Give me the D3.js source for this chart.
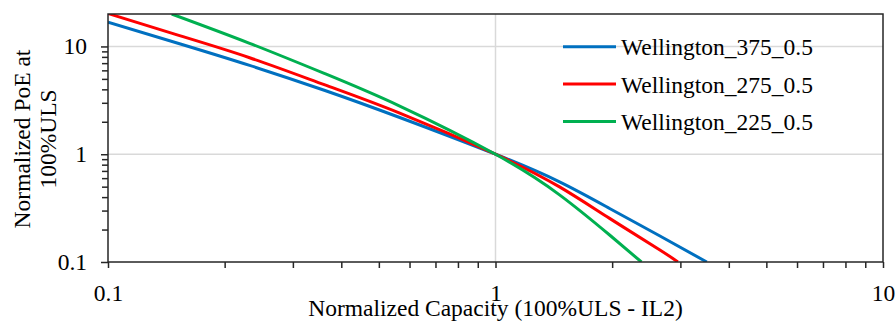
<!DOCTYPE html>
<html>
<head>
<meta charset="utf-8">
<script src="https://cdn.jsdelivr.net/npm/d3@7"></script>
<style>
  body { margin: 0; background: #fff; }
</style>
</head>
<body>
<div id="chart"></div>
<script>
// Series (x = normalized capacity, y = normalized PoE)
const seriesNames = ["Wellington_375_0.5", "Wellington_275_0.5", "Wellington_225_0.5"];
const seriesColors = ["#0070C0", "#FF0000", "#00B050"];

const x375 = [0.1, 0.153, 0.232, 0.363, 0.566, 1, 1.463, 1.97, 2.65, 3.51];
const y375 = [16.8, 10.6, 6.67, 3.9, 2.19, 1, 0.554, 0.314, 0.175, 0.1];

const x275 = [0.1, 0.153, 0.232, 0.363, 0.566, 1, 1.463, 1.97, 2.65, 2.955];
const y275 = [20.2, 12.6, 7.86, 4.4, 2.41, 1, 0.498, 0.254, 0.13, 0.1];

const x225 = [0.146, 0.232, 0.363, 0.566, 1, 1.463, 1.97, 2.38];
const y225 = [20, 10.7, 5.59, 2.8, 1, 0.42, 0.178, 0.1];

const xMajor = [0.1, 1, 10];
const yMajor = [0.1, 1, 10];
const xMinor = [0.2, 0.3, 0.4, 0.5, 0.6, 0.7, 0.8, 0.9, 2, 3, 4, 5, 6, 7, 8, 9];
const yMinor = [0.2, 0.3, 0.4, 0.5, 0.6, 0.7, 0.8, 0.9, 2, 3, 4, 5, 6, 7, 8, 9];

const width = 896, height = 325;
const plotLeft = 108, plotRight = 883, plotTop = 14, plotBottom = 262;
const fontSize = 23.5;
const fontFamily = '"Liberation Serif", "Times New Roman", serif';

const svg = d3.select("#chart").append("svg")
  .attr("width", width)
  .attr("height", height)
  .attr("font-family", fontFamily);

const x = d3.scaleLog().domain([0.1, 10]).range([plotLeft, plotRight]);
const y = d3.scaleLog().domain([0.1, 20]).range([plotBottom, plotTop]);

// gridlines at the inner major values
svg.append("g").selectAll("line")
  .data([1])
  .join("line")
  .attr("x1", d => x(d)).attr("x2", d => x(d))
  .attr("y1", plotTop).attr("y2", plotBottom)
  .attr("stroke", "#d9d9d9").attr("stroke-width", 1.5);

svg.append("g").selectAll("line")
  .data([1, 10])
  .join("line")
  .attr("x1", plotLeft).attr("x2", plotRight)
  .attr("y1", d => y(d)).attr("y2", d => y(d))
  .attr("stroke", "#d9d9d9").attr("stroke-width", 1.5);

// series lines
const series = [
  { xs: x375, ys: y375 },
  { xs: x275, ys: y275 },
  { xs: x225, ys: y225 }
];

svg.append("clipPath").attr("id", "plot-clip")
  .append("rect")
  .attr("x", plotLeft).attr("y", plotTop)
  .attr("width", plotRight - plotLeft).attr("height", plotBottom - plotTop);

const line = d3.line()
  .x(d => x(d[0]))
  .y(d => y(d[1]))
  .curve(d3.curveNatural);

svg.append("g").attr("clip-path", "url(#plot-clip)")
  .selectAll("path")
  .data(series)
  .join("path")
  .attr("d", d => line(d.xs.map((v, i) => [v, d.ys[i]])))
  .attr("fill", "none")
  .attr("stroke", (d, i) => seriesColors[i])
  .attr("stroke-width", 3);

// axes
const axisColor = "#262626";

const xAxis = svg.append("g")
  .attr("transform", `translate(0,${plotBottom})`)
  .call(d3.axisBottom(x).tickValues(xMajor).tickFormat(d3.format("~g")).tickSize(6).tickPadding(16));
const xMinorAxis = svg.append("g")
  .attr("transform", `translate(0,${plotBottom})`)
  .call(d3.axisBottom(x).tickValues(xMinor).tickFormat("").tickSize(6));

const yAxis = svg.append("g")
  .attr("transform", `translate(${plotLeft},0)`)
  .call(d3.axisLeft(y).tickValues(yMajor).tickFormat(d3.format("~g")).tickSize(7).tickPadding(14));
const yMinorAxis = svg.append("g")
  .attr("transform", `translate(${plotLeft},0)`)
  .call(d3.axisLeft(y).tickValues(yMinor).tickFormat("").tickSize(6));

[xAxis, xMinorAxis, yAxis, yMinorAxis].forEach(g => {
  g.attr("font-family", fontFamily).attr("font-size", fontSize);
  g.select(".domain").remove();
  g.selectAll(".tick line").attr("stroke", axisColor).attr("stroke-width", 1.5);
  g.selectAll(".tick text").attr("fill", "#000");
});

// frame
svg.append("rect")
  .attr("x", plotLeft).attr("y", plotTop)
  .attr("width", plotRight - plotLeft).attr("height", plotBottom - plotTop)
  .attr("fill", "none")
  .attr("stroke", axisColor)
  .attr("stroke-width", 1.5);

// axis titles
svg.append("text")
  .attr("x", (plotLeft + plotRight) / 2)
  .attr("y", 316)
  .attr("text-anchor", "middle")
  .attr("font-size", fontSize)
  .text("Normalized Capacity (100%ULS - IL2)");

const yTitle = svg.append("text")
  .attr("transform", "translate(0,139) rotate(-90)")
  .attr("text-anchor", "middle")
  .attr("font-size", fontSize);
yTitle.append("tspan").attr("x", 0).attr("y", 30).text("Normalized PoE at");
yTitle.append("tspan").attr("x", 0).attr("y", 56).text("100%ULS");

// legend
const legendY = [46.7, 84, 121.5];
const legend = svg.append("g").selectAll("g")
  .data(seriesNames)
  .join("g")
  .attr("transform", (d, i) => `translate(0,${legendY[i]})`);

legend.append("line")
  .attr("x1", 563).attr("x2", 616)
  .attr("y1", 0).attr("y2", 0)
  .attr("stroke", (d, i) => seriesColors[i])
  .attr("stroke-width", 3);

legend.append("text")
  .attr("x", 621)
  .attr("y", 8.5)
  .attr("font-size", fontSize)
  .text(d => d);
</script>
</body>
</html>
